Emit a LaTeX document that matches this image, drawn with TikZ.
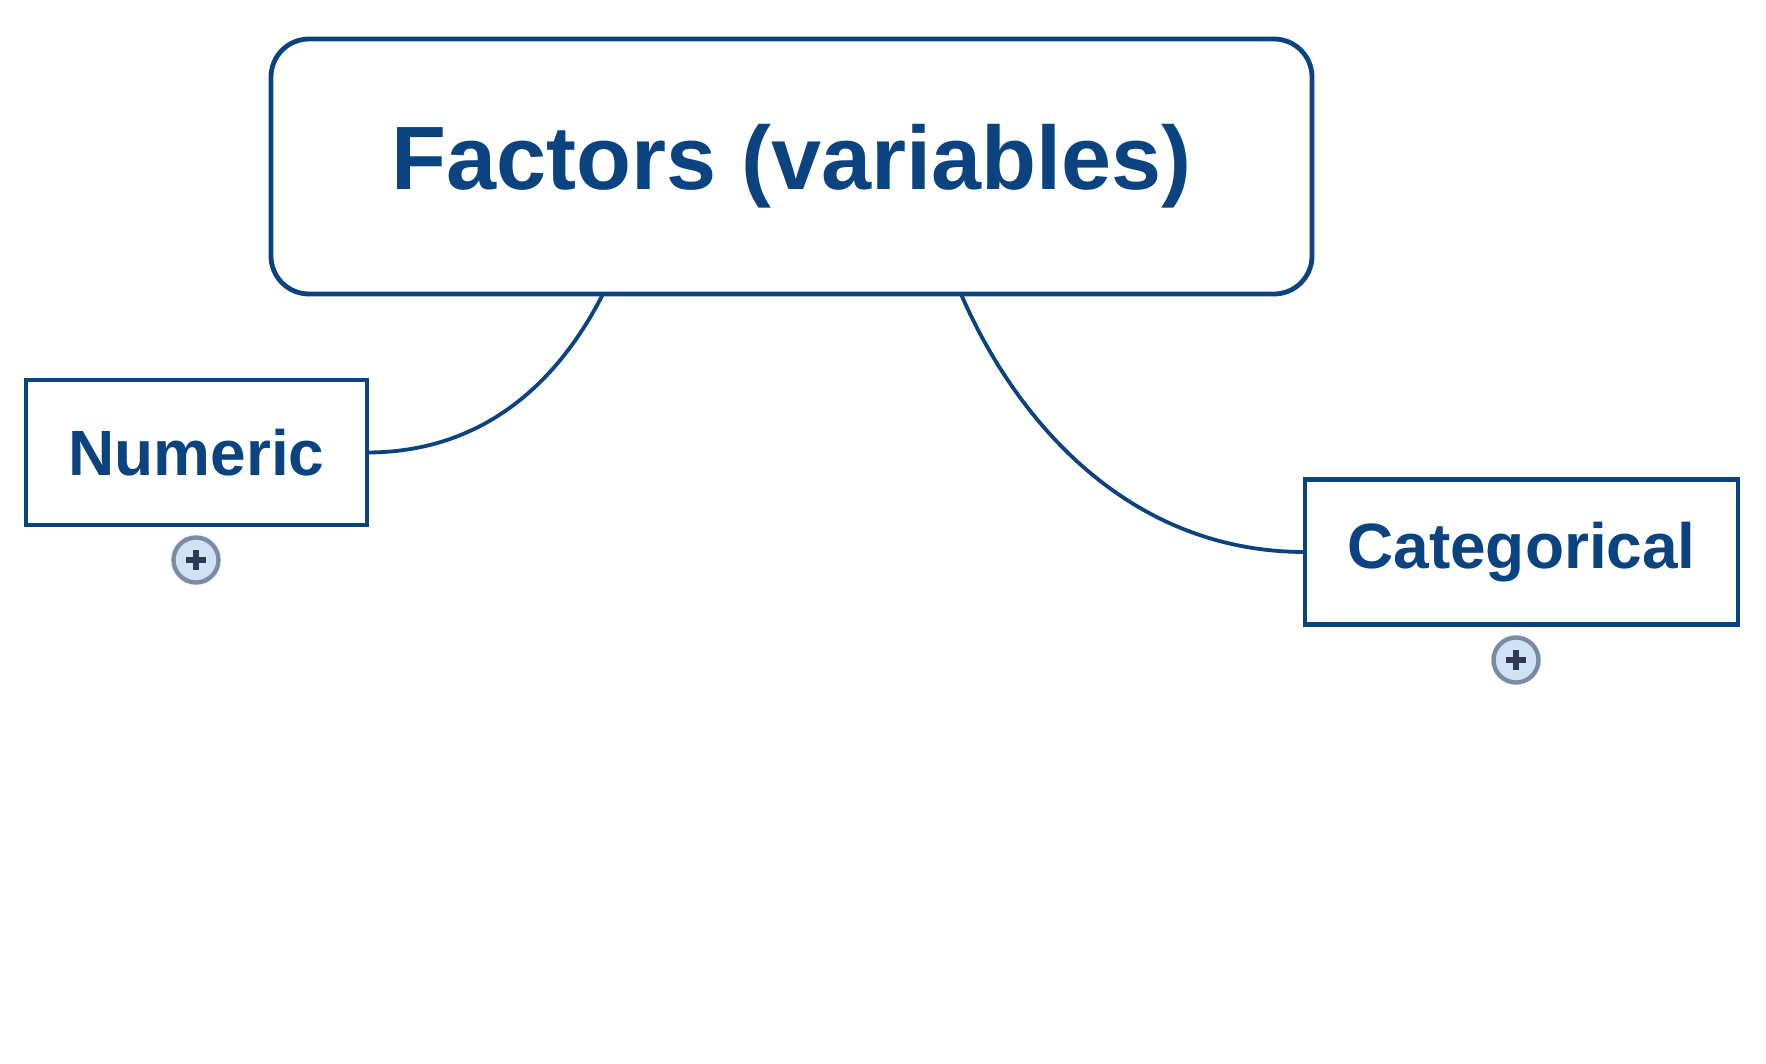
\documentclass[tikz,border=0pt]{standalone}
\usepackage{fontspec}
\setmainfont{Liberation Sans}
\definecolor{navy}{HTML}{0A4380}
\definecolor{plusfill}{HTML}{CFE3F5}
\definecolor{plusring}{HTML}{7A8BA6}
\definecolor{plusdark}{HTML}{2E3A55}
\tikzset{
  mainbox/.style={draw=navy, line width=2.4pt, rounded corners=19pt, fill=white, text=navy,
    inner sep=0pt, outer sep=0pt, minimum width=520.5pt, minimum height=127.5pt,
    font=\fontsize{45}{54}\selectfont\bfseries},
  subbox/.style={draw=navy, line width=2.4pt, fill=white, text=navy,
    inner sep=0pt, outer sep=0pt, minimum height=72.5pt,
    font=\fontsize{32}{38}\selectfont\bfseries},
  link/.style={draw=navy, line width=1.9pt},
  expander/.style={circle, draw=plusring, line width=2.2pt, fill=plusfill,
    minimum size=22.5pt, inner sep=0pt},
  plusbar/.style={draw=plusdark, line width=2.6pt}
}
\begin{document}
\begin{tikzpicture}[x=0.5pt,y=-0.5pt]
\useasboundingbox (0,0) rectangle (1766,1064);
\node[mainbox] (main) at (791.5,166.5) {Factors (variables)};
\node[subbox, minimum width=170.5pt] (num) at (196.5,452.5) {Numeric};
\node[subbox, minimum width=216.5pt] (cat) at (1521.5,552) {Categorical};
\node[expander] (pnum) at (196,560) {};
\node[expander] (pcat) at (1516,660) {};
\draw[plusbar] ([xshift=-5pt]pnum.center) -- ([xshift=5pt]pnum.center);
\draw[plusbar] ([yshift=-5pt]pnum.center) -- ([yshift=5pt]pnum.center);
\draw[plusbar] ([xshift=-5pt]pcat.center) -- ([xshift=5pt]pcat.center);
\draw[plusbar] ([yshift=-5pt]pcat.center) -- ([yshift=5pt]pcat.center);
\draw[link] ([xshift=-94.25pt]main.south) .. controls +(-51,100) and +(106,0) .. (num.east);
\draw[link] ([xshift=84.75pt]main.south) .. controls +(53,123) and +(-179,0) .. (cat.west);
\end{tikzpicture}
\end{document}
